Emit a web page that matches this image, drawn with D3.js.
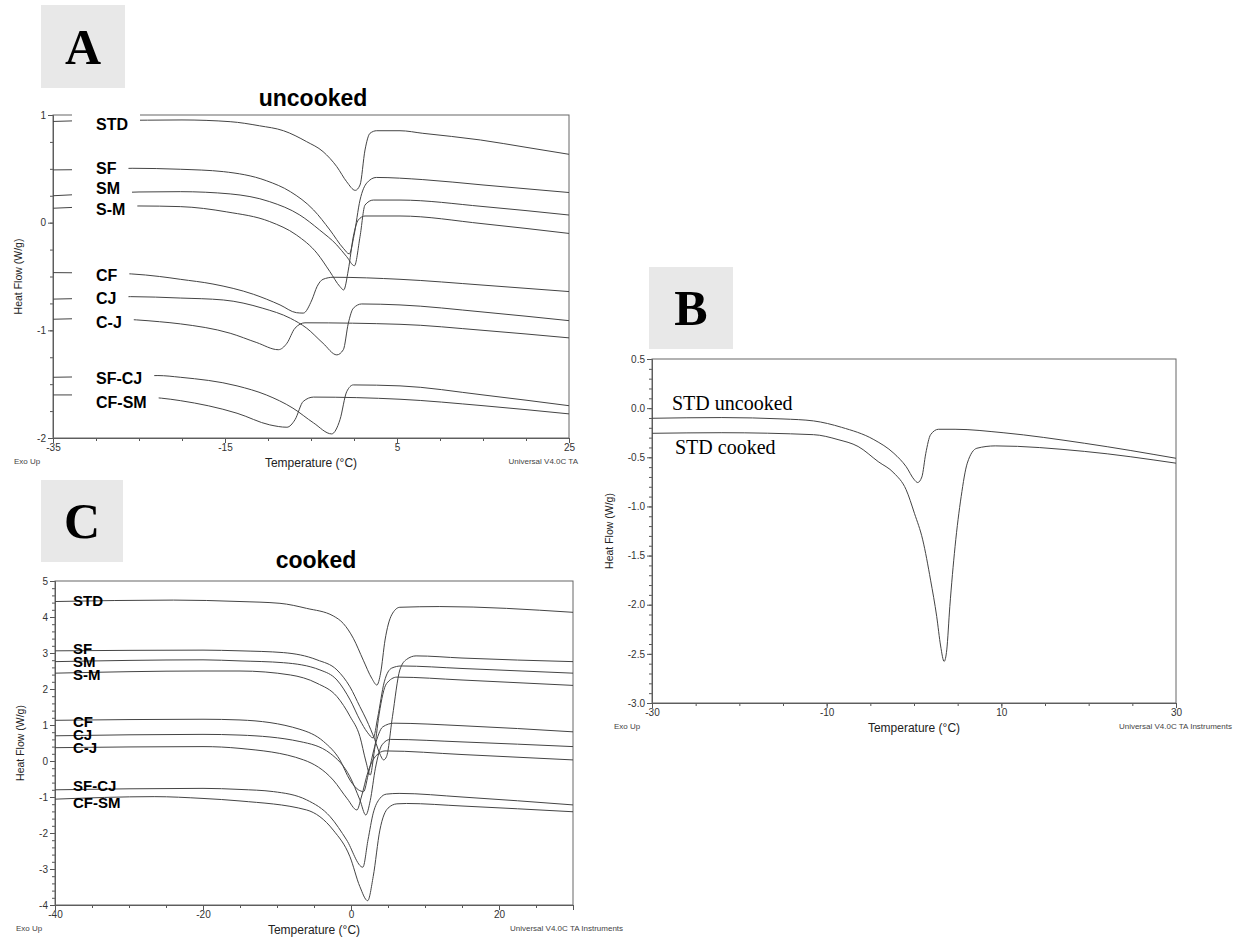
<!DOCTYPE html>
<html>
<head>
<meta charset="utf-8">
<title>DSC curves</title>
<script src="https://cdn.jsdelivr.net/npm/d3@7"></script>
<style>
  body { margin: 0; background: #fff; }
  svg { display: block; font-family: Arial, "Liberation Sans", sans-serif; }
  .tick text { font-size: 10px; fill: #333; }
  .tick line, .domain { stroke: #555; }
  .curve { fill: none; stroke: #444; stroke-width: 1; }
</style>
</head>
<body>
<script>
// ---- data: [temperature °C, heat flow W/g] ----
// panel A, uncooked
var aSTD  = [[-35,0.94],[-32,0.947],[-28,0.95],[-24,0.952],[-20,0.954],[-14.4,0.938],[-11,0.9],[-8.2,0.854],[-5.5,0.752],[-3.6,0.66],[-2,0.52],[-0.85,0.38],[0.15,0.30],[0.7,0.35],[1.28,0.675],[1.86,0.83],[2.64,0.854],[5.35,0.854],[8,0.83],[14.7,0.768],[20,0.70],[25,0.635]];
var aSF   = [[-35,0.49],[-30,0.495],[-25.8,0.505],[-20.2,0.496],[-15.2,0.474],[-10.2,0.39],[-7.4,0.288],[-4.7,0.118],[-2.8,-0.068],[-1.24,-0.238],[-0.55,-0.29],[0,-0.12],[0.7,0.21],[1.5,0.37],[2.6,0.42],[8,0.40],[15,0.35],[25,0.28]];
var aSM   = [[-35,0.25],[-30,0.27],[-25,0.285],[-20.2,0.288],[-14.4,0.267],[-9.8,0.195],[-6.3,0.071],[-4,-0.068],[-2,-0.207],[-0.85,-0.316],[0.05,-0.40],[0.7,-0.13],[1.28,0.164],[2.24,0.21],[5.35,0.21],[15,0.15],[25,0.071]];
var aSdM  = [[-35,0.134],[-30,0.149],[-25,0.155],[-20.2,0.149],[-14.8,0.10],[-9.8,0.01],[-6.7,-0.114],[-4.3,-0.284],[-2.8,-0.455],[-1.63,-0.594],[-1.2,-0.625],[-0.66,-0.44],[-0.08,-0.13],[0.5,0.025],[1.28,0.062],[5.35,0.062],[15,-0.01],[25,-0.10]];
var aCF   = [[-35,-0.464],[-30,-0.467],[-25.9,-0.476],[-22.6,-0.50],[-20.2,-0.526],[-16.4,-0.57],[-11.7,-0.665],[-8.6,-0.764],[-6.7,-0.836],[-5.9,-0.84],[-4.9,-0.718],[-4.3,-0.594],[-3.6,-0.526],[-2.4,-0.507],[5.35,-0.526],[15,-0.58],[25,-0.64]];
var aCJ   = [[-35,-0.71],[-30,-0.70],[-26,-0.687],[-20.2,-0.70],[-15.2,-0.718],[-10.6,-0.795],[-7.4,-0.888],[-5.5,-0.98],[-3.6,-1.12],[-2,-1.228],[-1.24,-1.18],[-0.66,-0.934],[-0.08,-0.795],[0.89,-0.755],[5.35,-0.764],[15,-0.83],[25,-0.91]];
var aCdJ  = [[-35,-0.897],[-30,-0.89],[-25.3,-0.903],[-22.6,-0.92],[-20.2,-0.94],[-14.4,-1.027],[-11.3,-1.114],[-8.8,-1.18],[-7.8,-1.12],[-6.86,-0.98],[-5.7,-0.93],[5.35,-0.944],[15,-1.0],[25,-1.07]];
var aSFCJ = [[-35,-1.436],[-30,-1.43],[-22.8,-1.42],[-20.2,-1.436],[-13.6,-1.516],[-10.2,-1.60],[-7.1,-1.723],[-4.7,-1.86],[-2.6,-1.962],[-1.63,-1.83],[-0.85,-1.57],[-0.08,-1.507],[5.35,-1.516],[15,-1.6],[25,-1.70]];
var aCFSM = [[-35,-1.60],[-30,-1.60],[-22.4,-1.63],[-20.2,-1.653],[-13.6,-1.77],[-9.8,-1.878],[-7.8,-1.90],[-6.86,-1.83],[-5.9,-1.66],[-4.7,-1.62],[5.35,-1.64],[15,-1.70],[25,-1.776]];

// panel C, cooked
var cSTD  = [[-40,4.43],[-24,4.47],[-15,4.43],[-9.6,4.38],[-6,4.24],[-2.4,4.03],[-1.04,3.82],[0.31,3.41],[1.66,2.80],[2.8,2.30],[3.5,2.11],[4,2.44],[4.6,3.36],[5.5,4.06],[6.6,4.27],[12,4.29],[30,4.13]];
var cSF   = [[-40,3.06],[-20,3.08],[-15,3.06],[-9.1,3.01],[-4.6,2.81],[-1.9,2.53],[-0.14,2.06],[1.2,1.51],[2.1,1.14],[3.2,0.6],[4,0.15],[4.4,0.03],[4.8,0.12],[5.6,1.23],[6.6,2.53],[7.5,2.82],[8.8,2.92],[15,2.86],[30,2.76]];
var cSM   = [[-40,2.76],[-20,2.81],[-15,2.78],[-9.1,2.73],[-4.2,2.53],[-1.9,2.25],[-0.1,1.69],[1.2,1.14],[2.2,0.8],[3,0.64],[3.6,1.2],[4.5,2.2],[5.5,2.58],[6.8,2.64],[15,2.57],[30,2.44]];
var cSdM  = [[-40,2.44],[-20,2.50],[-15,2.50],[-8.2,2.39],[-4.6,2.16],[-1.9,1.79],[-0.1,1.23],[1.2,0.68],[2,0],[2.6,-0.39],[3.1,0.2],[3.8,1.3],[4.8,2.15],[6.2,2.33],[15,2.25],[30,2.10]];
var cCF   = [[-40,1.13],[-20,1.16],[-15,1.14],[-6.9,0.88],[-3.7,0.54],[-1.5,0.03],[-0.14,-0.53],[1,-0.8],[1.7,-0.85],[2.3,-0.4],[3.2,0.4],[4.3,0.95],[5.8,1.05],[15,0.98],[30,0.81]];
var cCJ   = [[-40,0.70],[-20,0.74],[-15,0.72],[-6.9,0.54],[-2.8,0.21],[-0.14,-0.44],[1.2,-1.08],[2,-1.5],[2.6,-1.1],[3.3,-0.2],[4.2,0.45],[5.3,0.60],[15,0.53],[30,0.40]];
var cCdJ  = [[-40,0.37],[-20,0.40],[-15,0.35],[-6.4,0.03],[-2.4,-0.53],[-0.5,-1.05],[0.8,-1.36],[1.4,-1.0],[2.3,-0.3],[3.4,0.15],[4.6,0.28],[15,0.18],[30,0.03]];
var cSFCJ = [[-40,-0.80],[-20,-0.76],[-15,-0.79],[-10.5,-0.85],[-6,-1.08],[-2.8,-1.55],[-0.6,-2.19],[1.6,-2.95],[2.3,-2.19],[3,-1.45],[3.9,-1.04],[4.8,-0.92],[6.5,-0.90],[15,-1.0],[30,-1.22]];
var cCFSM = [[-40,-1.06],[-26.6,-0.99],[-20,-1.04],[-15,-1.11],[-6,-1.36],[-2.4,-1.92],[-0.14,-2.66],[1.2,-3.49],[2.25,-3.88],[3,-3.21],[3.9,-1.92],[5,-1.31],[6.2,-1.19],[7.5,-1.18],[15,-1.25],[30,-1.41]];

// panel B, STD compared
var bUncooked = [[-30,-0.103],[-22,-0.096],[-15,-0.11],[-11.5,-0.13],[-8.3,-0.195],[-4.6,-0.32],[-2.3,-0.46],[-0.9,-0.595],[0.05,-0.73],[0.42,-0.757],[0.9,-0.70],[1.35,-0.46],[1.9,-0.27],[2.8,-0.215],[4.7,-0.215],[10.2,-0.25],[19.5,-0.357],[30,-0.51]];
var bCooked   = [[-30,-0.256],[-22,-0.25],[-11.5,-0.27],[-8.7,-0.32],[-6.4,-0.39],[-4.1,-0.544],[-2.3,-0.66],[-0.9,-0.83],[0.05,-1.07],[1,-1.34],[1.9,-1.75],[2.6,-2.12],[3.05,-2.42],[3.45,-2.577],[3.75,-2.46],[4.1,-2.02],[4.7,-1.41],[5.4,-0.90],[6.1,-0.56],[7.2,-0.408],[9.3,-0.384],[19.5,-0.44],[30,-0.56]];

var sampleNames = ["STD", "SF", "SM", "S-M", "CF", "CJ", "C-J", "SF-CJ", "CF-SM"];
var aSeries = [aSTD, aSF, aSM, aSdM, aCF, aCJ, aCdJ, aSFCJ, aCFSM];
var cSeries = [cSTD, cSF, cSM, cSdM, cCF, cCJ, cCdJ, cSFCJ, cCFSM];
var bNames = ["STD uncooked", "STD cooked"];
var bSeries = [bUncooked, bCooked];

var aXTicks = [-35, -15, 5, 25];
var aYTicks = [-2, -1, 0, 1];
var cXTicks = [-40, -20, 0, 20];
var cYTicks = [-4, -3, -2, -1, 0, 1, 2, 3, 4, 5];
var bXTicks = [-30, -10, 10, 30];
var bYTicks = [-3, -2.5, -2, -1.5, -1, -0.5, 0, 0.5];

var svg = d3.select("body").append("svg")
    .attr("width", 1233)
    .attr("height", 938);

// panel letter boxes
function letterBox(letter, x, y, w, h) {
    svg.append("rect").attr("x", x).attr("y", y).attr("width", w).attr("height", h)
        .attr("fill", "#e8e8e8");
    svg.append("text").attr("x", x + w / 2).attr("y", y + h / 2 + 17)
        .attr("text-anchor", "middle")
        .style("font-family", "'Liberation Serif', 'DejaVu Serif', serif")
        .style("font-weight", "bold").style("font-size", "50px")
        .text(letter);
}
letterBox("A", 41, 5, 84, 83);
letterBox("B", 649, 267, 84, 82);
letterBox("C", 41, 480, 82, 82);

function range(a, b, step) {
    var out = [];
    var n = Math.round((b - a) / step);
    for (var i = 0; i <= n; i++) out.push(+(a + i * step).toFixed(4));
    return out;
}

function panel(p) {
    var x = d3.scaleLinear().domain(p.xDomain).range([p.left, p.right]);
    var y = d3.scaleLinear().domain(p.yDomain).range([p.bottom, p.top]);
    var g = svg.append("g");

    // minor ticks
    g.append("g").attr("transform", "translate(0," + p.bottom + ")")
        .call(d3.axisBottom(x).tickValues(range(p.xDomain[0], p.xDomain[1], p.xMinor))
            .tickSize(3).tickFormat(""));
    g.append("g").attr("transform", "translate(" + p.left + ",0)")
        .call(d3.axisLeft(y).tickValues(range(p.yDomain[0], p.yDomain[1], p.yMinor))
            .tickSize(3).tickFormat(""));
    // major ticks with labels
    g.append("g").attr("transform", "translate(0," + p.bottom + ")")
        .call(d3.axisBottom(x).tickValues(p.xTicks).tickSize(5).tickPadding(1)
            .tickFormat(function(d) { return String(d); }));
    g.append("g").attr("transform", "translate(" + p.left + ",0)")
        .call(d3.axisLeft(y).tickValues(p.yTicks).tickSize(5).tickPadding(2)
            .tickFormat(p.yFormat));

    // frame
    g.append("rect").attr("x", p.left).attr("y", p.top)
        .attr("width", p.right - p.left).attr("height", p.bottom - p.top)
        .attr("fill", "none").attr("stroke", "#666");

    var line = d3.line()
        .x(function(d) { return x(d[0]); })
        .y(function(d) { return y(d[1]); })
        .curve(d3.curveMonotoneX);

    g.selectAll("path.curve").data(p.series).enter().append("path")
        .attr("class", "curve").attr("d", line);

    // labels
    p.names.forEach(function(name, i) {
        var lab = p.labels[i];
        var t = g.append("text").attr("x", lab[0]).attr("y", lab[1])
            .attr("dy", "0.35em")
            .style("font-family", p.labelFont)
            .style("font-weight", p.labelWeight)
            .style("font-size", p.labelSize)
            .text(name);
        if (p.labelBox) {
            var w = t.node().getComputedTextLength();
            g.insert("rect", function() { return t.node(); })
                .attr("x", p.labelBox).attr("y", lab[1] - 10)
                .attr("width", lab[0] + w + 12 - p.labelBox).attr("height", 20)
                .attr("fill", "#fff");
        }
    });

    // titles and footnotes
    if (p.title) {
        g.append("text").attr("x", p.title[1]).attr("y", p.title[2])
            .attr("text-anchor", "middle")
            .style("font-weight", "bold").style("font-size", "23px")
            .text(p.title[0]);
    }
    g.append("text").attr("x", (p.left + p.right) / 2).attr("y", p.bottom + 29)
        .attr("text-anchor", "middle").style("font-size", "12px").attr("fill", "#222")
        .text("Temperature (°C)");
    g.append("text")
        .attr("transform", "translate(" + p.yTitleX + "," + ((p.top + p.bottom) / 2) + ") rotate(-90)")
        .attr("text-anchor", "middle").style("font-size", "10.5px").attr("fill", "#222")
        .text("Heat Flow (W/g)");
    g.append("text").attr("x", p.exoX).attr("y", p.bottom + 26)
        .style("font-size", "8px").attr("fill", "#444").text("Exo Up");
    g.append("text").attr("x", p.footX).attr("y", p.bottom + 26)
        .attr("text-anchor", p.footAnchor)
        .style("font-size", "8px").attr("fill", "#444").text(p.foot);
}

panel({
    left: 53, right: 569, top: 115, bottom: 438,
    xDomain: [-35, 25], yDomain: [-2, 1], xMinor: 5, yMinor: 0.25,
    xTicks: aXTicks, yTicks: aYTicks,
    yFormat: function(d) { return String(d); },
    series: aSeries, names: sampleNames,
    labels: [[96, 124], [96, 168], [96, 188], [96, 209], [96, 275], [96, 298], [96, 322], [96, 378], [96, 402]],
    labelFont: "Arial, 'Liberation Sans', sans-serif", labelWeight: "bold", labelSize: "16px",
    labelBox: 72,
    title: ["uncooked", 313, 106],
    yTitleX: 22, exoX: 14, footX: 578, footAnchor: "end", foot: "Universal V4.0C TA"
});

panel({
    left: 55, right: 573, top: 581, bottom: 905,
    xDomain: [-40, 30], yDomain: [-4, 5], xMinor: 5, yMinor: 0.2,
    xTicks: cXTicks, yTicks: cYTicks,
    yFormat: function(d) { return String(d); },
    series: cSeries, names: sampleNames,
    labels: [[73, 601], [73, 649], [73, 662], [73, 675], [73, 722], [73, 735], [73, 748], [73, 786], [73, 803]],
    labelFont: "Arial, 'Liberation Sans', sans-serif", labelWeight: "bold", labelSize: "15px",
    labelBox: null,
    title: ["cooked", 316, 568],
    yTitleX: 24, exoX: 16, footX: 510, footAnchor: "start", foot: "Universal V4.0C TA Instruments"
});

panel({
    left: 652, right: 1176, top: 359, bottom: 703,
    xDomain: [-30, 30], yDomain: [-3, 0.5], xMinor: 5, yMinor: 0.1,
    xTicks: bXTicks, yTicks: bYTicks,
    yFormat: function(d) { return d.toFixed(1); },
    series: bSeries, names: bNames,
    labels: [[672, 403], [675, 447]],
    labelFont: "'Liberation Serif', 'DejaVu Serif', serif", labelWeight: "normal", labelSize: "20px",
    labelBox: null,
    title: null,
    yTitleX: 613, exoX: 614, footX: 1232, footAnchor: "end", foot: "Universal V4.0C TA Instruments"
});
</script>
</body>
</html>
